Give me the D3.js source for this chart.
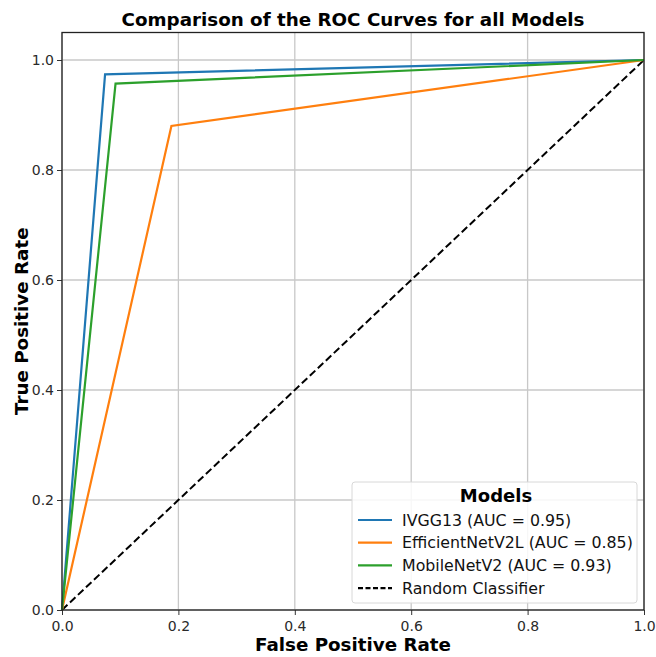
<!DOCTYPE html>
<html>
<head>
    <title>ROC Curves</title>
    <meta charset="utf-8">
    <style>
        body { margin: 0; background: #fff; }
        text { font-family: "DejaVu Sans", sans-serif; }
    </style>
</head>
<body>
<script src="https://d3js.org/d3.v7.min.js"></script>
<script>
    // Model names, AUC labels and ROC points (fpr, tpr)
    const models = ['IVGG13', 'EfficientNetV2L', 'MobileNetV2'];
    const aucs = [0.95, 0.85, 0.93];
    const colors = ['#1f77b4', '#ff7f0e', '#2ca02c'];
    const fprValues = [
        [0, 0.074, 1],
        [0, 0.188, 1],
        [0, 0.092, 1]
    ];
    const tprValues = [
        [0, 0.974, 1],
        [0, 0.880, 1],
        [0, 0.957, 1]
    ];
    const randomLine = [[0, 0], [1, 1]];
    const ticks = [0, 0.2, 0.4, 0.6, 0.8, 1.0];

    const SIZES = { WIDTH: 656, HEIGHT: 657, LEFT: 62, RIGHT: 644, TOP: 32.5, BOTTOM: 610 };

    const x = d3.scaleLinear().domain([0, 1]).range([SIZES.LEFT, SIZES.RIGHT]);
    const y = d3.scaleLinear().domain([0, 1.05]).range([SIZES.BOTTOM, SIZES.TOP]);

    const svg = d3.select('body').append('svg')
        .attr('width', SIZES.WIDTH)
        .attr('height', SIZES.HEIGHT);

    // grid
    svg.append('g')
        .selectAll('line.gx')
        .data(ticks)
        .enter().append('line')
        .attr('x1', d => x(d)).attr('x2', d => x(d))
        .attr('y1', SIZES.TOP).attr('y2', SIZES.BOTTOM)
        .attr('stroke', '#c8c8c8').attr('stroke-width', 1.3);
    svg.append('g')
        .selectAll('line.gy')
        .data(ticks)
        .enter().append('line')
        .attr('y1', d => y(d)).attr('y2', d => y(d))
        .attr('x1', SIZES.LEFT).attr('x2', SIZES.RIGHT)
        .attr('stroke', '#c8c8c8').attr('stroke-width', 1.3);

    // axes
    const xAxis = svg.append('g')
        .attr('transform', `translate(0,${SIZES.BOTTOM})`)
        .call(d3.axisBottom(x).tickValues(ticks).tickFormat(d3.format('.1f')).tickSizeOuter(0).tickSize(5));
    const yAxis = svg.append('g')
        .attr('transform', `translate(${SIZES.LEFT},0)`)
        .call(d3.axisLeft(y).tickValues(ticks).tickFormat(d3.format('.1f')).tickSizeOuter(0).tickSize(5));
    [xAxis, yAxis].forEach(a => {
        a.select('.domain').remove();
        a.selectAll('text').style('font-size', '14px').attr('fill', '#2a2a2a');
        a.selectAll('line').attr('stroke', '#333');
    });
    xAxis.selectAll('text').attr('dy', '0.9em');

    const line = d3.line().x(d => x(d[0])).y(d => y(d[1]));

    // random classifier
    svg.append('path')
        .datum(randomLine)
        .attr('d', line)
        .attr('fill', 'none')
        .attr('stroke', '#000')
        .attr('stroke-width', 2)
        .attr('stroke-dasharray', '7.5,3.5');

    // model curves
    models.forEach((m, i) => {
        const pts = fprValues[i].map((f, j) => [f, tprValues[i][j]]);
        svg.append('path')
            .datum(pts)
            .attr('d', line)
            .attr('fill', 'none')
            .attr('stroke', colors[i])
            .attr('stroke-width', 2.2)
            .attr('stroke-linejoin', 'miter');
    });

    // frame
    svg.append('rect')
        .attr('x', SIZES.LEFT).attr('y', SIZES.TOP)
        .attr('width', SIZES.RIGHT - SIZES.LEFT)
        .attr('height', SIZES.BOTTOM - SIZES.TOP)
        .attr('fill', 'none').attr('stroke', '#222').attr('stroke-width', 1.3);

    // titles
    svg.append('text')
        .attr('x', (SIZES.LEFT + SIZES.RIGHT) / 2).attr('y', 26)
        .attr('text-anchor', 'middle')
        .style('font-size', '18.3px').style('font-weight', 'bold')
        .text('Comparison of the ROC Curves for all Models');
    svg.append('text')
        .attr('x', (SIZES.LEFT + SIZES.RIGHT) / 2).attr('y', 651)
        .attr('text-anchor', 'middle')
        .style('font-size', '18.3px').style('font-weight', 'bold')
        .text('False Positive Rate');
    svg.append('text')
        .attr('transform', `translate(28,${(SIZES.TOP + SIZES.BOTTOM) / 2}) rotate(-90)`)
        .attr('text-anchor', 'middle')
        .style('font-size', '18.3px').style('font-weight', 'bold')
        .text('True Positive Rate');

    // legend
    const legend = svg.append('g').attr('transform', 'translate(352,482)');
    legend.append('rect')
        .attr('width', 285).attr('height', 121).attr('rx', 3)
        .attr('fill', 'rgba(255,255,255,0.85)')
        .attr('stroke', '#d8d8d8');
    legend.append('text')
        .attr('x', 144).attr('y', 20)
        .attr('text-anchor', 'middle')
        .style('font-size', '18px').style('font-weight', 'bold')
        .text('Models');
    const entries = models.map((m, i) => ({ label: `${m} (AUC = ${aucs[i].toFixed(2)})`, color: colors[i], dash: null }))
        .concat([{ label: 'Random Classifier', color: '#000', dash: '5,2.5' }]);
    const rows = legend.selectAll('g.row')
        .data(entries)
        .enter().append('g')
        .attr('transform', (d, i) => `translate(0,${38 + i * 22.7})`);
    rows.append('line')
        .attr('x1', 6).attr('x2', 40)
        .attr('stroke', d => d.color)
        .attr('stroke-width', 2.2)
        .attr('stroke-dasharray', d => d.dash);
    rows.append('text')
        .attr('x', 50).attr('dy', '0.35em')
        .style('font-size', '15.8px').attr('fill', '#111')
        .text(d => d.label);
</script>
</body>
</html>
